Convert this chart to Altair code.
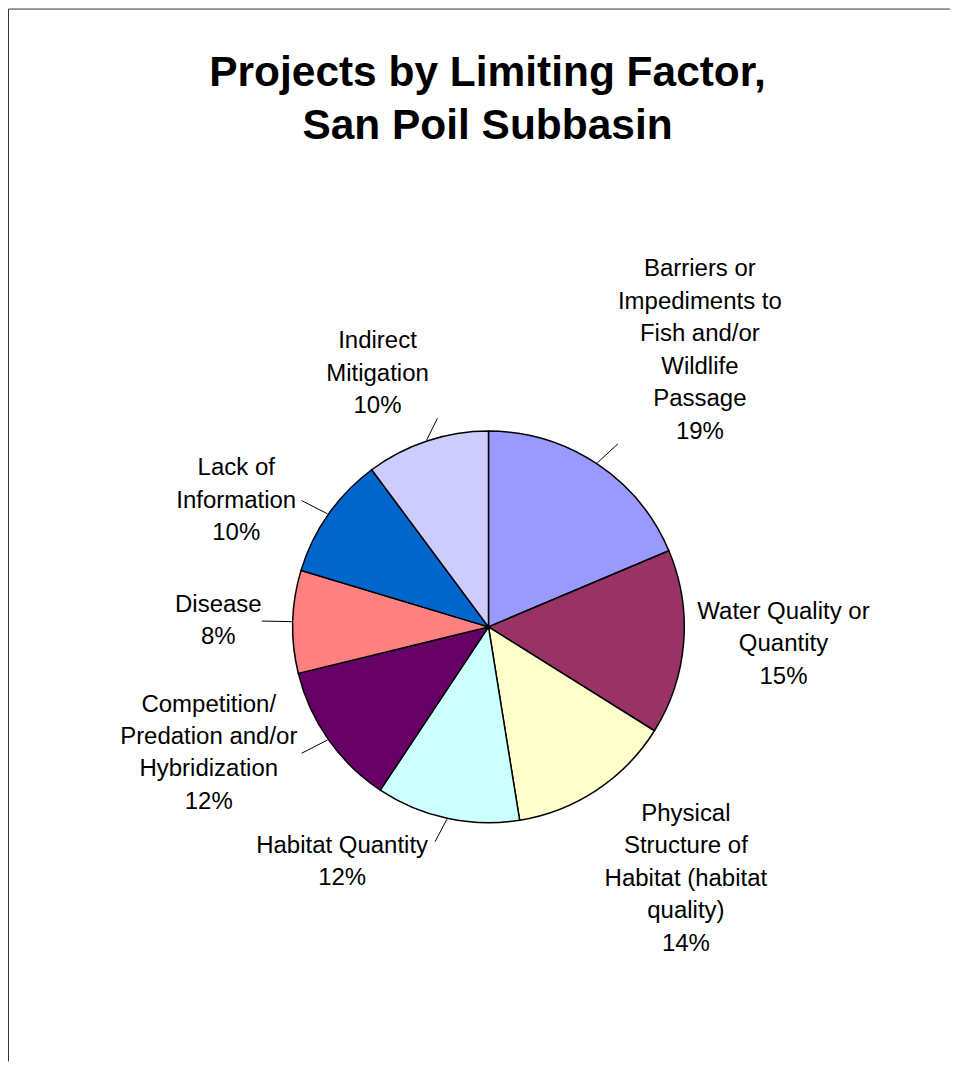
import altair as alt
import pandas as pd

# ---- data ----
categories = [
    "Barriers or Impediments to Fish and/or Wildlife Passage",
    "Water Quality or Quantity",
    "Physical Structure of Habitat (habitat quality)",
    "Habitat Quantity",
    "Competition/ Predation and/or Hybridization",
    "Disease",
    "Lack of Information",
    "Indirect Mitigation",
]
label_lines = [
    "Barriers or|Impediments to|Fish and/or|Wildlife|Passage",
    "Water Quality or|Quantity",
    "Physical|Structure of|Habitat (habitat|quality)",
    "Habitat Quantity",
    "Competition/|Predation and/or|Hybridization",
    "Disease",
    "Lack of|Information",
    "Indirect|Mitigation",
]
project_counts = [11, 9, 8, 7, 7, 5, 6, 6]
slice_colors = ["#9999FF", "#993366", "#FFFFCC", "#CCFFFF",
                "#660066", "#FF8080", "#0066CC", "#CCCCFF"]
title_lines = ["Projects by Limiting Factor,", "San Poil Subbasin"]

df = pd.DataFrame({
    "idx": list(range(len(categories))),
    "category": categories,
    "lines": label_lines,
    "count": project_counts,
})

# ---- layout / style constants ----
W, H = 943, 1054
CX, CY = 481, 619
R = 196
LABEL_R = 220
LH = 32.5
CW = 11.0          # approx. average glyph width used to centre label blocks
FONT = "Liberation Sans"
LEADER_SLICES = [categories[i] for i in (0, 3, 4, 5, 6, 7)]

base = alt.Chart(df)

arcs = base.mark_arc(stroke="black", strokeWidth=1.5, outerRadius=R).encode(
    theta=alt.Theta("count:Q", stack=True),
    order=alt.Order("idx:Q"),
    color=alt.Color("category:N",
                    scale=alt.Scale(domain=categories, range=slice_colors),
                    legend=None),
    x=alt.value(CX),
    y=alt.value(CY),
)

lab = base.transform_joinaggregate(
    total="sum(count)"
).transform_window(
    cum="sum(count)", sort=[alt.SortField("idx")], frame=[None, 0]
).transform_calculate(
    mid="2*PI*(datum.cum - datum.count/2)/datum.total",
    label="datum.lines + '|' + format(datum.count/datum.total, '.0%')",
).transform_calculate(
    n="length(split(datum.label, '|'))",
    side="sin(datum.mid) >= 0 ? 1 : -1",
    ax=f"{CX} + (cos(datum.mid) > 0.7 ? 13 : -12) + {LABEL_R}*sin(datum.mid)",
    ay0=f"{CY} - {LABEL_R}*cos(datum.mid)",
).transform_calculate(
    ay=(f"datum.ay0 + "
        f"(cos(datum.mid) > 0.7 ? -(12 + (datum.n-1)*{LH}) : "
        f"(cos(datum.mid) < -0.7 ? 4 : -(datum.n-1)*{LH}/2))"),
)

texts = lab.transform_calculate(
    arr="split(datum.label, '|')"
).transform_flatten(
    ["arr"], as_=["line"]
).transform_window(
    li="row_number()", groupby=["idx"]
).transform_calculate(
    llen="length(datum.line)"
).transform_joinaggregate(
    maxlen="max(llen)", groupby=["idx"]
).transform_calculate(
    tx=f"datum.ax + datum.side*datum.maxlen*{CW}/2",
    ty=f"datum.ay + (datum.li-1)*{LH}",
).mark_text(
    align="center", baseline="middle", fontSize=24, font=FONT, color="black",
).encode(
    x=alt.X("tx:Q", scale=None, axis=None),
    y=alt.Y("ty:Q", scale=None, axis=None),
    text="line:N",
)

leaders = lab.transform_filter(
    alt.FieldOneOfPredicate(field="category", oneOf=LEADER_SLICES)
).transform_calculate(
    x0=f"{CX} + {R + 1}*sin(datum.mid)",
    y0=f"{CY} - {R + 1}*cos(datum.mid)",
    x1="datum.ax - datum.side*5",
    y1="datum.ay0",
).mark_rule(color="black", strokeWidth=1).encode(
    x=alt.X("x0:Q", scale=None, axis=None),
    y=alt.Y("y0:Q", scale=None, axis=None),
    x2="x1:Q",
    y2="y1:Q",
)

frame_df = pd.DataFrame({"k": [0]})
top_rule = alt.Chart(frame_df).mark_rule(color="#333333", strokeWidth=1).encode(
    x=alt.value(0.5), x2=alt.value(W), y=alt.value(0.5))
left_rule = alt.Chart(frame_df).mark_rule(color="#333333", strokeWidth=1).encode(
    x=alt.value(0.5), y=alt.value(0.5), y2=alt.value(H))

chart = alt.layer(arcs, leaders, texts, top_rule, left_rule).properties(
    width=W, height=H,
    padding=0,
    title=alt.TitleParams(
        text=title_lines, fontSize=42.5, font=FONT, fontWeight="bold",
        lineHeight=53, anchor="middle", baseline="top", offset=-139, dx=8.5,
        color="black",
    ),
).configure_view(strokeWidth=0)

chart.save("out.html", embed_options={"renderer": "svg", "actions": False})
